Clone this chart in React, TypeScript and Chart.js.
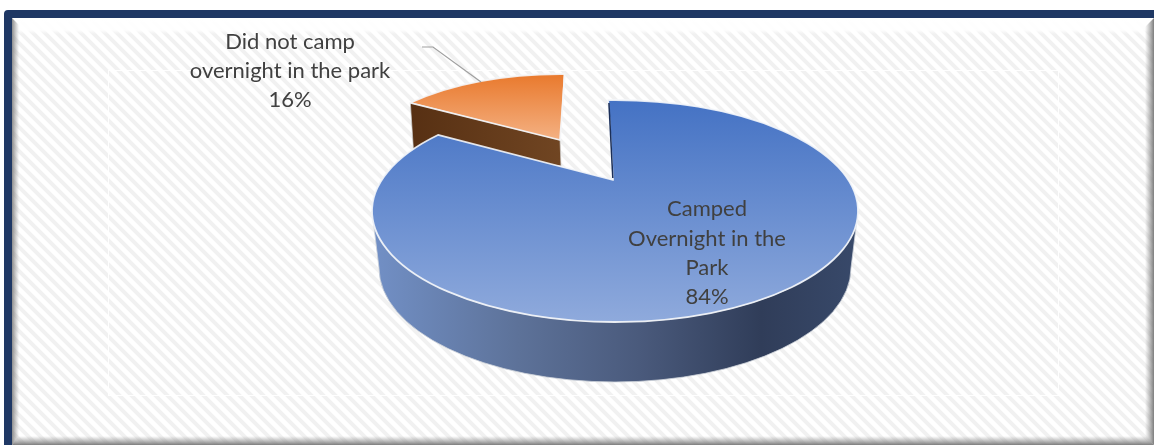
import React, { useEffect, useRef } from "react";
import { Chart, registerables } from "chart.js";

Chart.register(...registerables);

const categories = ["Camped Overnight in the Park", "Did not camp overnight in the park"];
const shares = [84, 16];
const labelLines = [["Camped", "Overnight in the", "Park"], ["Did not camp", "overnight in the park"]];
const labelColumns = [707, 290];
const labelRows = [[209, 238.5, 268, 297], [42, 71, 100]];
const sliceColors = ["#4472c4", "#ed7d31"];
const faceStops = [["#4472c4", "#8faadc"], ["#e97a2e", "#f4b183"]];

const W = 1154;
const H = 445;
const TILT = 0.43;
const TAU = Math.PI * 2;

type Face = {
  apex: number[];
  m: number[];
  rim: number[];
  band: number[];
};

const faces: Face[] = [
  { apex: [613, 180], m: [1, 0, 0, TILT], rim: [615, 211, 243, 111], band: [100, 322] },
  { apex: [560, 140], m: [1.07, 0, -0.138 * TILT, TILT], rim: [560, 166, 206, 92], band: [75, 140] },
];

function rimPoint(f: Face, angle: number) {
  const [a, b, c, d] = f.m;
  const ux = a * Math.cos(angle) + c * Math.sin(angle);
  const uy = b * Math.cos(angle) + d * Math.sin(angle);
  const [cx, cy, rx, ry] = f.rim;
  const px = (f.apex[0] - cx) / rx;
  const py = (f.apex[1] - cy) / ry;
  const qx = ux / rx;
  const qy = uy / ry;
  const A = qx * qx + qy * qy;
  const B = 2 * (px * qx + py * qy);
  const C = px * px + py * py - 1;
  const l = (-B + Math.sqrt(B * B - 4 * A * C)) / (2 * A);
  const x = f.apex[0] + ux * l;
  const y = f.apex[1] + uy * l;
  return { x, y, t: Math.atan2((y - cy) / ry, (x - cx) / rx) };
}

function drawFace(ctx: CanvasRenderingContext2D, arc: any, f: Face, stops: string[]) {
  const mid = (arc.startAngle + arc.endAngle) / 2;
  const off = (arc.options.offset || 0) / 4;
  const rawX = arc.x + Math.cos(mid) * off;
  const rawY = arc.y + Math.sin(mid) * off;
  const [a, b, c, d] = f.m;
  const [cx, cy, rx, ry] = f.rim;
  ctx.save();
  ctx.beginPath();
  ctx.ellipse(cx, cy, rx, ry, 0, 0, TAU);
  ctx.clip();
  ctx.transform(a, b, c, d, f.apex[0] - (a * rawX + c * rawY), f.apex[1] - (b * rawX + d * rawY));
  // the arc translates itself by its offset before filling, so the gradient is given relative to arc.y
  const g = ctx.createLinearGradient(0, arc.y + (f.band[0] - f.apex[1]) / d, 0, arc.y + (f.band[1] - f.apex[1]) / d);
  g.addColorStop(0, stops[0]);
  g.addColorStop(1, stops[1]);
  arc.options = { ...arc.options, backgroundColor: g };
  arc.draw(ctx);
  ctx.restore();
  const s = rimPoint(f, arc.startAngle);
  const e = rimPoint(f, arc.endAngle);
  ctx.save();
  ctx.beginPath();
  ctx.moveTo(f.apex[0], f.apex[1]);
  ctx.lineTo(s.x, s.y);
  ctx.ellipse(cx, cy, rx, ry, 0, s.t, e.t, false);
  ctx.closePath();
  ctx.strokeStyle = "rgba(244,246,250,0.9)";
  ctx.lineWidth = 1.8;
  ctx.lineJoin = "round";
  ctx.stroke();
  ctx.restore();
  return { s, e };
}

function drawBlueWall(ctx: CanvasRenderingContext2D) {
  const [cx, cy, rx, ry] = faces[0].rim;
  const bx = cx;
  const by = cy + 57;
  const brx = rx - 7;
  const bry = ry + 3;
  ctx.save();
  ctx.beginPath();
  ctx.ellipse(bx, by, brx, bry, 0, 0, Math.PI, false);
  ctx.lineTo(cx - rx, cy);
  ctx.ellipse(cx, cy, rx, ry, 0, Math.PI, 0, true);
  ctx.closePath();
  const g = ctx.createLinearGradient(cx - rx, 0, cx + rx, 0);
  g.addColorStop(0, "#7290c6");
  g.addColorStop(0.3, "#5d7299");
  g.addColorStop(0.55, "#4a5a7c");
  g.addColorStop(0.8, "#303d59");
  g.addColorStop(1, "#38496a");
  ctx.fillStyle = g;
  ctx.fill();
  ctx.strokeStyle = "rgba(205,210,218,0.8)";
  ctx.lineWidth = 1;
  ctx.stroke();
  ctx.restore();
}

function drawOrangeWall(ctx: CanvasRenderingContext2D, arc: any) {
  const f = faces[1];
  const left = rimPoint(f, arc.startAngle);
  const apex = f.apex;
  ctx.save();
  ctx.beginPath();
  ctx.moveTo(left.x, left.y);
  ctx.lineTo(apex[0], apex[1]);
  ctx.lineTo(apex[0] + 1, apex[1] + 26);
  ctx.lineTo(left.x + 3, left.y + 46);
  ctx.closePath();
  const g = ctx.createLinearGradient(left.x, 0, apex[0], 0);
  g.addColorStop(0, "#573013");
  g.addColorStop(1, "#704522");
  ctx.fillStyle = g;
  ctx.fill();
  ctx.strokeStyle = "rgba(205,205,205,0.7)";
  ctx.lineWidth = 1;
  ctx.stroke();
  ctx.restore();
}

function drawBackdrop(ctx: CanvasRenderingContext2D) {
  ctx.save();
  ctx.fillStyle = "#ffffff";
  ctx.fillRect(0, 0, W, H);
  const tile = document.createElement("canvas");
  tile.width = 12;
  tile.height = 12;
  const t = tile.getContext("2d")!;
  t.strokeStyle = "#f1f1f1";
  t.lineWidth = 4;
  for (const o of [-12, 0, 12]) {
    t.beginPath();
    t.moveTo(o - 2, -2);
    t.lineTo(o + 14, 14);
    t.stroke();
  }
  ctx.fillStyle = ctx.createPattern(tile, "repeat")!;
  ctx.fillRect(12, 18, W - 12, H - 18);

  const fadeTop = ctx.createLinearGradient(0, 18, 0, 34);
  fadeTop.addColorStop(0, "rgba(255,255,255,1)");
  fadeTop.addColorStop(0.75, "rgba(255,255,255,0.9)");
  fadeTop.addColorStop(1, "rgba(255,255,255,0)");
  ctx.fillStyle = fadeTop;
  ctx.fillRect(12, 18, W - 12, 16);

  const bevel = (pts: number[][], x0: number, y0: number, x1: number, y1: number, from: string) => {
    const g = ctx.createLinearGradient(x0, y0, x1, y1);
    g.addColorStop(0, from);
    g.addColorStop(1, "rgba(150,150,150,0)");
    ctx.fillStyle = g;
    ctx.beginPath();
    pts.forEach((p, i) => (i ? ctx.lineTo(p[0], p[1]) : ctx.moveTo(p[0], p[1])));
    ctx.closePath();
    ctx.fill();
  };
  bevel([[12, 18], [19, 25], [19, 437], [12, 445]], 12, 0, 19, 0, "rgba(135,135,135,0.95)");
  bevel([[W, 18], [W - 9, 27], [W - 9, 437], [W, 445]], W, 0, W - 9, 0, "rgba(125,125,125,1)");
  bevel([[12, H], [19, 436], [W - 9, 436], [W, H]], 0, H, 0, 436, "rgba(125,125,125,1)");

  ctx.fillStyle = "#1f3864";
  ctx.beginPath();
  ctx.roundRect(4, 10, W, 8, [4, 0, 0, 0]);
  ctx.rect(4, 14, 8, H);
  ctx.fill();

  ctx.strokeStyle = "rgba(255,255,255,0.9)";
  ctx.lineWidth = 1;
  ctx.strokeRect(108.5, 70.5, 950, 325);
  ctx.restore();
}

const pie3d = {
  id: "pie3d",
  beforeDraw(chart: any) {
    drawBackdrop(chart.ctx);
  },
  beforeDatasetsDraw(chart: any) {
    const ctx = chart.ctx;
    const [blue, orange] = chart.getDatasetMeta(0).data;
    drawOrangeWall(ctx, orange);
    drawFace(ctx, orange, faces[1], faceStops[1]);
    drawBlueWall(ctx);
    const { s } = drawFace(ctx, blue, faces[0], faceStops[0]);
    ctx.save();
    ctx.strokeStyle = "#1b2f58";
    ctx.lineWidth = 1.5;
    ctx.beginPath();
    ctx.moveTo(s.x + 0.8, s.y + 3);
    ctx.lineTo(faces[0].apex[0] - 0.2, faces[0].apex[1] - 2);
    ctx.stroke();
    ctx.restore();
    return false;
  },
  afterDraw(chart: any) {
    const ctx = chart.ctx;
    ctx.save();
    ctx.strokeStyle = "#a0a0a0";
    ctx.lineWidth = 1.2;
    ctx.beginPath();
    ctx.moveTo(422, 47);
    ctx.lineTo(433, 47);
    ctx.lineTo(481, 82);
    ctx.stroke();
    ctx.fillStyle = "#404040";
    ctx.font = '22px Lato';
    ctx.textAlign = "center";
    ctx.textBaseline = "middle";
    shares.forEach((v, i) => {
      const lines = [...labelLines[i], `${v}%`];
      lines.forEach((line, j) => ctx.fillText(line, labelColumns[i], labelRows[i][j]));
    });
    ctx.restore();
  },
};

export default function App() {
  const ref = useRef<HTMLCanvasElement>(null);
  useEffect(() => {
    document.body.style.margin = "0";
    const chart = new Chart(ref.current!, {
      type: "pie",
      data: {
        labels: categories,
        datasets: [
          {
            data: shares,
            backgroundColor: sliceColors,
            borderWidth: 0,
            offset: [0, 428],
          },
        ],
      },
      options: {
        responsive: false,
        animation: false,
        radius: 360,
        rotation: -1.5,
        plugins: { legend: { display: false }, tooltip: { enabled: false }, title: { display: false } },
      },
      plugins: [pie3d],
    } as any);
    return () => chart.destroy();
  }, []);
  return <canvas ref={ref} width={W} height={H} style={{ display: "block", width: W, height: H }} />;
}
